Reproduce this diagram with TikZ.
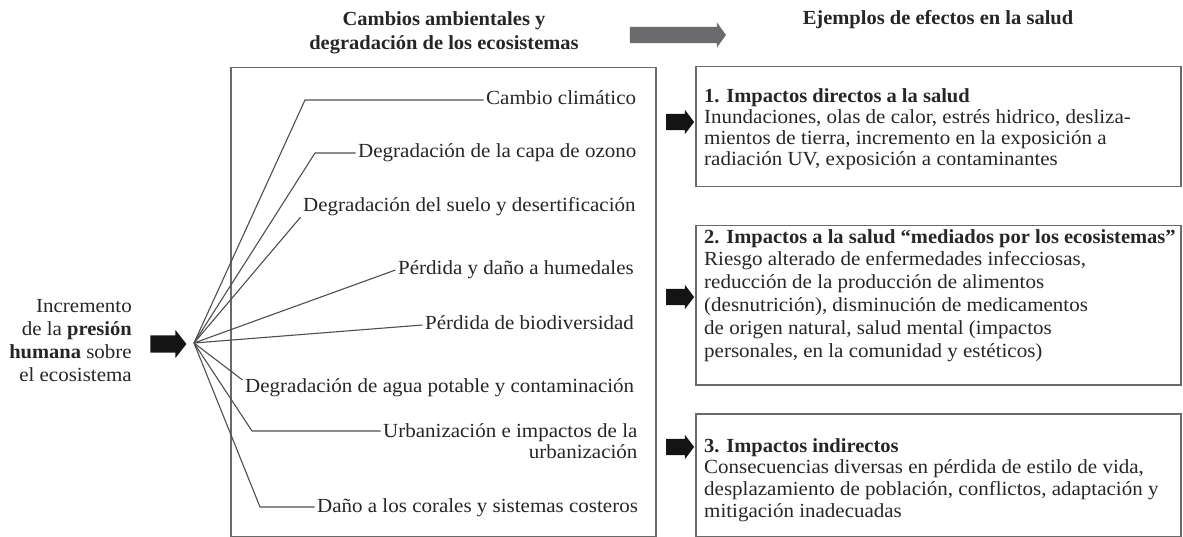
\documentclass[tikz,border=0pt]{standalone}
\usepackage{fontspec}
\setmainfont{Liberation Serif}[FakeStretch=1.05, BoldFeatures={FakeStretch=1.025}]
\usetikzlibrary{shapes.arrows}
\definecolor{txt}{HTML}{262626}
\definecolor{ln}{HTML}{4E4E4E}
\definecolor{bx}{HTML}{6A6A6A}
\definecolor{garrow}{HTML}{6B6B6D}
\definecolor{blk}{HTML}{141414}
\begin{document}
\begin{tikzpicture}[x=1pt,y=-1pt,
  font=\fontsize{20}{22}\selectfont, text=txt,
  itembase/.style={inner xsep=2.5pt, inner ysep=1pt, anchor=west},
  item/.style={itembase, text height=14pt, text depth=4pt},
  fanline/.style={draw=ln, line width=1.1pt},
  frame/.style={draw=bx, line width=1.5pt, rectangle, inner sep=0pt},
  boxtext/.style={anchor=north west, inner sep=0pt, align=left},
  heading/.style={font=\bfseries\fontsize{20}{24}\selectfont, align=center},
  blockarrow/.style={single arrow, fill=#1, draw=none, inner xsep=0pt, inner ysep=0pt,
    minimum width=0pt, anchor=center}]
\useasboundingbox (0,0) rectangle (1183,537);

% headings
\node[heading] (h1) at (444,33) {Cambios ambientales y\\degradación de los ecosistemas};
\node[heading] (h2) at (938,20) {Ejemplos de efectos en la salud};
\node[blockarrow=garrow, text height=8pt, text depth=8pt, single arrow head extend=4.5pt,
  single arrow tip angle=108, minimum height=96pt] (ga) at (675,35) {};

% source text and arrow
\node[align=right, anchor=east, inner sep=0pt, font=\fontsize{20}{23}\selectfont] (src) at (132,341)
  {Incremento\\de la \textbf{presión}\\\textbf{humana} sobre\\el ecosistema};
\node[blockarrow=blk, text height=8.5pt, text depth=8.5pt, single arrow head extend=5.5pt,
  single arrow tip angle=104, minimum height=36pt] (a0) at (165,344) {};

% middle frame
\node[frame, minimum width=425pt, minimum height=469pt, anchor=north west] (mid) at (230,67) {};

% items
\coordinate (fan) at (194,343);
\node[item] (c1) at (483.5,100) {Cambio climático};
\node[item] (c2) at (355.5,153) {Degradación de la capa de ozono};
\node[item] (c3) at (300.5,207) {Degradación del suelo y desertificación};
\node[item] (c4) at (395.5,270) {Pérdida y daño a humedales};
\node[item] (c5) at (422.5,325) {Pérdida de biodiversidad};
\node[item] (c6) at (242.5,387) {Degradación de agua potable y contaminación};
\node[itembase, anchor=north west, align=right, font=\fontsize{20}{21}\selectfont] (c7) at (380.5,422)
  {Urbanización e impactos de la\\urbanización};
\node[item] (c8) at (314.5,507) {Daño a los corales y sistemas costeros};

\draw[fanline] (fan) -- (305,100) -- (c1.west);
\draw[fanline] (fan) -- (315,153) -- (c2.west);
\draw[fanline] (fan) -- (c3.south west);
\draw[fanline] (fan) -- (c4.west);
\draw[fanline] (fan) -- (c5.west);
\draw[fanline] (fan) -- ([yshift=7pt]c6.west);
\draw[fanline] (fan) -- (252,431) -- (252,431 -| c7.west);
\draw[fanline] (fan) -- (260,507) -- (c8.west);

% right boxes
\node[frame, minimum width=485pt, minimum height=120pt, anchor=north west] (b1) at (695,66) {};
\node[frame, minimum width=485pt, minimum height=159pt, anchor=north west] (b2) at (695,225) {};
\node[frame, minimum width=485pt, minimum height=123pt, anchor=north west] (b3) at (695,413) {};

\node[boxtext, font=\fontsize{20}{21.3}\selectfont] (t1) at (704,88)
  {\textbf{1. Impactos directos a la salud}\\
   Inundaciones, olas de calor, estrés hidrico, desliza-\\
   mientos de tierra, incremento en la exposición a\\
   radiación UV, exposición a contaminantes};
\node[boxtext, font=\fontsize{20}{22.8}\selectfont] (t2) at (704,229)
  {\textbf{2. Impactos a la salud “mediados por los ecosistemas”}\\
   Riesgo alterado de enfermedades infecciosas,\\
   reducción de la producción de alimentos\\
   (desnutrición), disminución de medicamentos\\
   de origen natural, salud mental (impactos\\
   personales, en la comunidad y estéticos)};
\node[boxtext, font=\fontsize{20}{21.7}\selectfont] (t3) at (704,438)
  {\textbf{3. Impactos indirectos}\\
   Consecuencias diversas en pérdida de estilo de vida,\\
   desplazamiento de población, conflictos, adaptación y\\
   mitigación inadecuadas};

% black arrows
\node[blockarrow=blk, text height=8pt, text depth=8pt, single arrow head extend=4pt,
  single arrow tip angle=106, minimum height=28pt] (a1) at (677,122) {};
\node[blockarrow=blk, text height=8pt, text depth=8pt, single arrow head extend=4pt,
  single arrow tip angle=106, minimum height=28pt] (a2) at (677,297) {};
\node[blockarrow=blk, text height=8pt, text depth=8pt, single arrow head extend=4pt,
  single arrow tip angle=106, minimum height=28pt] (a3) at (677,447) {};
\end{tikzpicture}
\end{document}
